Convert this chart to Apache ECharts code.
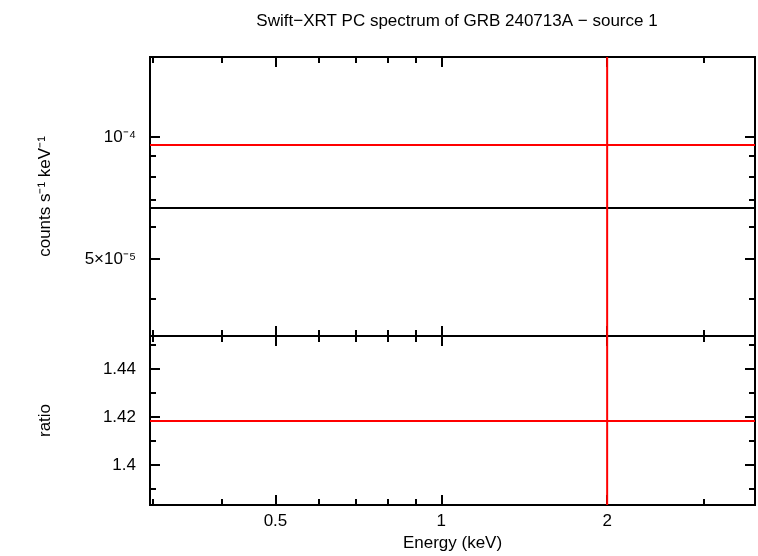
<!DOCTYPE html>
<html><head><meta charset="utf-8">
<script src="https://cdn.jsdelivr.net/npm/echarts@6/dist/echarts.min.js"></script>
<style>html,body{margin:0;padding:0;background:#fff}#c{width:758px;height:556px}</style>
</head><body><div id="c"></div>
<script>
const xRange = [0.296, 3.71];
const topRange = [3.23e-5, 1.576e-4];
const ratioRange = [1.3833, 1.4538];
const xMajor = [0.5, 1, 2];
const xMinor = [0.3, 0.4, 0.6, 0.7, 0.8, 0.9, 3];
const topMajor = [5e-5, 1e-4];
const topMajorLabels = ['5×10⁻⁵', '10⁻⁴'];
const topMinor = [4e-5, 6e-5, 7e-5, 8e-5, 9e-5];
const ratioMajor = [1.40, 1.42, 1.44];
const ratioMinor = [1.39, 1.41, 1.43, 1.45];
const dataLevel = 9.56e-5;
const modelLevel = 6.68e-5;
const ratioLevel = 1.4183;
const energyMark = 2.0;

const L = Math.log10;
const font = 'Liberation Sans, Arial, sans-serif';
const blk = {onZero:false, lineStyle:{color:'#000',width:2}};
function xAxis(grid, pos, labels){
  const base = {type:'value', gridIndex:grid, position:pos, min:L(xRange[0]), max:L(xRange[1]),
    axisLine:{show:true, ...blk}, splitLine:{show:false}};
  return [
    {...base, axisTick:{show:true,inside:true,length:10,customValues:xMajor.map(L),lineStyle:{color:'#000',width:2}},
      axisLabel:{show:labels,customValues:xMajor.map(L),formatter:v=>String(+Math.pow(10,v).toFixed(2)),color:'#000',fontSize:17,fontFamily:font,margin:8},
      name: labels?'Energy (keV)':'', nameLocation:'middle', nameGap:30, nameTextStyle:{color:'#000',fontSize:17,fontFamily:font}},
    {...base, axisTick:{show:true,inside:true,length:6,customValues:xMinor.map(L),lineStyle:{color:'#000',width:2}},
      axisLabel:{show:false}}
  ];
}
function yAxis(grid, pos, rng, major, minor, labels, fmt, name, tf){
  const base = {type:'value', gridIndex:grid, position:pos, min:tf(rng[0]), max:tf(rng[1]),
    axisLine:{show:true, ...blk}, splitLine:{show:false}};
  return [
    {...base, axisTick:{show:true,inside:true,length:10,customValues:major.map(tf),lineStyle:{color:'#000',width:2}},
      axisLabel:{show:labels,customValues:major.map(tf),formatter:fmt,color:'#000',fontSize:17,fontFamily:font,margin:14},
      name: labels?name:'', nameLocation:'middle', nameGap:96, nameTextStyle:{color:'#000',fontSize:17,fontFamily:font}},
    {...base, axisTick:{show:true,inside:true,length:6,customValues:minor.map(tf),lineStyle:{color:'#000',width:2}},
      axisLabel:{show:false}}
  ];
}
const id = v=>v;
const xAxes = [...xAxis(0,'bottom',false), ...xAxis(0,'top',false), ...xAxis(1,'bottom',true), ...xAxis(1,'top',false)];
const topFmt = v => { const i = topMajor.map(L).findIndex(t=>Math.abs(t-v)<1e-6); return topMajorLabels[i]||''; };
const yAxes = [
  ...yAxis(0,'left',topRange,topMajor,topMinor,true,topFmt,'counts s⁻¹ keV⁻¹',L),
  ...yAxis(0,'right',topRange,topMajor,topMinor,false,topFmt,'',L),
  ...yAxis(1,'left',ratioRange,ratioMajor,ratioMinor,true,v=>v.toFixed(2).replace(/0$/,''),'ratio',id),
  ...yAxis(1,'right',ratioRange,ratioMajor,ratioMinor,false,null,'',id)
];
function line(xi, yi, pts, color){
  return {type:'line', xAxisIndex:xi, yAxisIndex:yi, data:pts, symbol:'none', silent:true,
    lineStyle:{color, width:2}, z:3};
}
const series = [
  line(0,0,[[L(xRange[0]),L(modelLevel)],[L(xRange[1]),L(modelLevel)]],'#000'),
  line(0,0,[[L(xRange[0]),L(dataLevel)],[L(xRange[1]),L(dataLevel)]],'#f00'),
  line(0,0,[[L(energyMark),L(topRange[0])],[L(energyMark),L(topRange[1])]],'#f00'),
  line(4,4,[[L(xRange[0]),ratioLevel],[L(xRange[1]),ratioLevel]],'#f00'),
  line(4,4,[[L(energyMark),ratioRange[0]],[L(energyMark),ratioRange[1]]],'#f00')
];
const chart = echarts.init(document.getElementById('c'));
chart.setOption({
  animation:false, backgroundColor:'#fff',
  title:{text:'Swift−XRT PC spectrum of GRB 240713A − source 1', left:452, top:8, textAlign:'center',
    textStyle:{color:'#000',fontSize:17,fontWeight:'normal',fontFamily:font}},
  grid:[{left:150,right:3,top:57,height:279},{left:150,right:3,top:336,height:169}],
  xAxis:xAxes, yAxis:yAxes, series
});
</script></body></html>
